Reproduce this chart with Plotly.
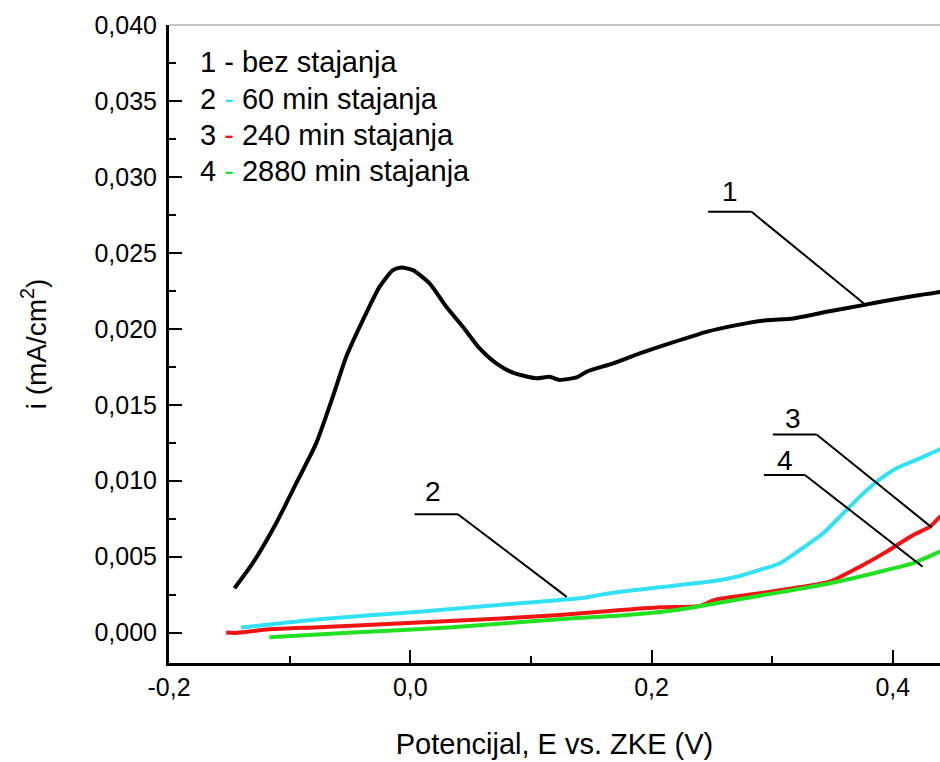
import plotly.graph_objects as go

# ---- data ----
x1 = [-0.1457, -0.1306, -0.1112, -0.0946, -0.0780, -0.0642, -0.0531, -0.0393, -0.0255,
      -0.0144, -0.0075, 0.0022, 0.0160, 0.0299, 0.0436, 0.0575, 0.0713, 0.0851, 0.1045,
      0.1156, 0.1238, 0.1390, 0.1460, 0.1681, 0.1902, 0.2151, 0.2455, 0.2704, 0.2953,
      0.3174, 0.3451, 0.3754, 0.4003, 0.4225, 0.4391, 0.4500]
y1 = [0.00292, 0.00457, 0.00720, 0.00983, 0.01246, 0.01553, 0.01816, 0.02057, 0.02276,
      0.02386, 0.02404, 0.02386, 0.02299, 0.02145, 0.02013, 0.01871, 0.01772, 0.01711, 0.01674,
      0.01684, 0.01663, 0.01684, 0.01717, 0.01772, 0.01838, 0.01904, 0.01980, 0.02024, 0.02057,
      0.02068, 0.02112, 0.02156, 0.02193, 0.02222, 0.02243, 0.02260]

x2 = [-0.1402, -0.0752, 0.0077, 0.0907, 0.1404, 0.1653, 0.2068, 0.2483, 0.2704, 0.2898,
      0.3064, 0.3230, 0.3423, 0.3561, 0.3727, 0.3866, 0.4031, 0.4225, 0.4391, 0.4500]
y2 = [0.00033, 0.00088, 0.00138, 0.00193, 0.00226, 0.00259, 0.00299, 0.00336, 0.00368, 0.00413,
      0.00457, 0.00544, 0.00654, 0.00763, 0.00895, 0.00993, 0.01082, 0.01147, 0.01207, 0.01240]

x3 = [-0.1526, -0.1457, -0.1167, -0.0752, -0.0061, 0.0630, 0.1238, 0.1653, 0.2068, 0.2400,
      0.2524, 0.2898, 0.3174, 0.3478, 0.3727, 0.3949, 0.4169, 0.4308, 0.4391, 0.4500]
y3 = [0.00000, -0.00002, 0.00022, 0.00036, 0.00062, 0.00088, 0.00116, 0.00143, 0.00167, 0.00176,
      0.00215, 0.00259, 0.00292, 0.00336, 0.00434, 0.00533, 0.00643, 0.00697, 0.00763, 0.00820]

x4 = [-0.1167, -0.0476, 0.0353, 0.1238, 0.1792, 0.2207, 0.2538, 0.2898, 0.3174, 0.3478,
      0.3893, 0.4169, 0.4391, 0.4500]
y4 = [-0.00030, 0.00000, 0.00036, 0.00088, 0.00116, 0.00149, 0.00193, 0.00243, 0.00281, 0.00325,
      0.00401, 0.00457, 0.00533, 0.00570]

series_names = ["bez stajanja", "60 min stajanja", "240 min stajanja", "2880 min stajanja"]
series_colors = ["#000000", "#33E1F4", "#F01414", "#22E022"]

x_tickvals = [-0.2, 0.0, 0.2, 0.4]
x_ticktext = ["-0,2", "0,0", "0,2", "0,4"]
x_minorvals = [-0.1, 0.1, 0.3]
y_tickvals = [0.000, 0.005, 0.010, 0.015, 0.020, 0.025, 0.030, 0.035, 0.040]
y_ticktext = ["0,000", "0,005", "0,010", "0,015", "0,020", "0,025", "0,030", "0,035", "0,040"]
y_minorvals = [0.0025, 0.0075, 0.0125, 0.0175, 0.0225, 0.0275, 0.0325, 0.0375]

# curve labels: (text, label x, label y, hline x0, hline x1, hline y, end x, end y)
leaders = [
    ("1", 0.2651, 0.02901, 0.2469, 0.2829, 0.02770, 0.3760, 0.02167),
    ("2", 0.0187, 0.00928, 0.0036, 0.0395, 0.00779, 0.1297, 0.00235),
    ("3", 0.3171, 0.01412, 0.3005, 0.3368, 0.01304, 0.4322, 0.00693),
    ("4", 0.3105, 0.01130, 0.2931, 0.3271, 0.01038, 0.4247, 0.00434),
]

FONT = "Liberation Sans, Arial, sans-serif"

fig = go.Figure()
for xs, ys, name, col in zip([x1, x2, x3, x4], [y1, y2, y3, y4], series_names, series_colors):
    fig.add_trace(go.Scatter(x=xs, y=ys, mode="lines", name=name,
                             line=dict(color=col, width=4, shape="spline", smoothing=0.6),
                             showlegend=False))

for lab, lx, ly, hx0, hx1, hy, ex, ey in leaders:
    fig.add_shape(type="line", xref="x", yref="y", x0=hx0, x1=hx1, y0=hy, y1=hy,
                  line=dict(color="black", width=2))
    fig.add_shape(type="line", xref="x", yref="y", x0=hx1, x1=ex, y0=hy, y1=ey,
                  line=dict(color="black", width=2))
    fig.add_annotation(x=lx, y=ly, xref="x", yref="y", text=lab, showarrow=False,
                       font=dict(size=28, color="black", family=FONT))

# legend text as annotations
leg_y = [0.942, 0.884, 0.828, 0.771]
for i, (name, col, py) in enumerate(zip(series_names, series_colors, leg_y)):
    txt = f"{i+1} <span style='color:{col}'>-</span> {name}"
    fig.add_annotation(x=0.038, y=py, xref="paper", yref="paper", text=txt,
                       showarrow=False, xanchor="left", yanchor="middle",
                       font=dict(size=29, color="black", family=FONT))

# thin top frame line
fig.add_shape(type="line", xref="paper", yref="paper", x0=0, x1=1, y0=1, y1=1,
              line=dict(color="#888888", width=1))

fig.update_layout(
    width=940, height=762,
    margin=dict(l=169, r=0, t=25, b=99),
    paper_bgcolor="white", plot_bgcolor="white",
    font=dict(family=FONT, color="black"),
    xaxis=dict(range=[-0.2, 0.4391], tickvals=x_tickvals, ticktext=x_ticktext,
               ticks="inside", ticklen=13, tickwidth=2, tickcolor="black",
               minor=dict(tickvals=x_minorvals, ticks="inside", ticklen=7, tickwidth=2,
                          tickcolor="black"),
               showline=True, linecolor="black", linewidth=3, showgrid=False, zeroline=False,
               tickfont=dict(size=25, family=FONT),
               title=dict(text="Potencijal, E vs. ZKE (V)", font=dict(size=29, family=FONT),
                          standoff=34)),
    yaxis=dict(range=[-0.002, 0.040], tickvals=y_tickvals, ticktext=y_ticktext,
               ticks="inside", ticklen=13, tickwidth=2, tickcolor="black",
               minor=dict(tickvals=y_minorvals, ticks="inside", ticklen=7, tickwidth=2,
                          tickcolor="black"),
               showline=True, linecolor="black", linewidth=3, showgrid=False, zeroline=False,
               ticklabelstandoff=4,
               tickfont=dict(size=25, family=FONT),
               title=dict(text="i (mA/cm<sup>2</sup>)", font=dict(size=28, family=FONT),
                          standoff=40)),
)

fig.write_html("out.html")
